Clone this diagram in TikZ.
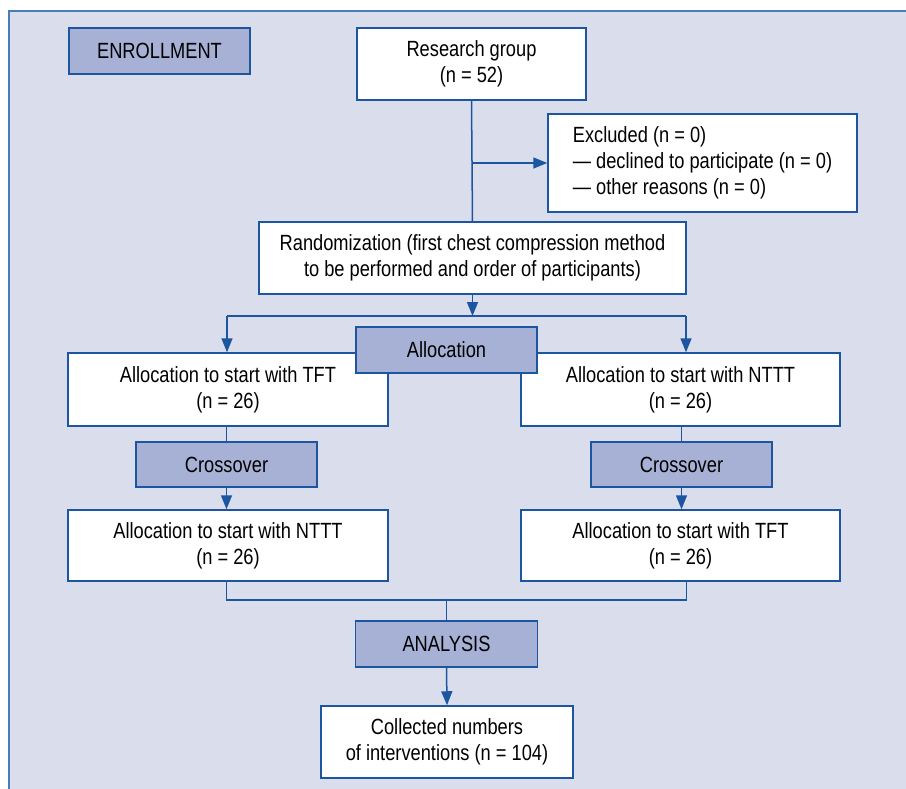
\documentclass[tikz,border=0pt]{standalone}
\usepackage{fontspec}
\setmainfont{Liberation Sans}[FakeStretch=0.83]
\usepackage{xcolor}
\definecolor{flowBack}{HTML}{D9DDEC}
\definecolor{flowHead}{HTML}{A6B1D5}
\definecolor{flowBorder}{HTML}{1C55A0}
\definecolor{flowFrame}{HTML}{4A7DB8}
\usepackage{tikz}
\usetikzlibrary{arrows.meta}
\usetikzlibrary{positioning}
\tikzstyle{stage} = [rectangle, draw=flowBorder, fill=white, line width=1.5pt,
        align=center, inner sep=0pt, font={\fontsize{22}{26}\selectfont}]
\tikzstyle{stagehead} = [stage, fill=flowHead]
\tikzstyle{link} = [draw=flowBorder, line width=1.5pt]
\tikzstyle{flow} = [link, -{Triangle[length=14pt,width=11pt]}]

\begin{document}
\begin{tikzpicture}[x=1pt, y=-1pt]
            \useasboundingbox (0,0) rectangle (906,789);
            \fill [flowBack] (9,11) rectangle (906,789);
            \draw [flowFrame, line width=2.5pt] (9,789) -- (9,11) -- (906,11);
            % enrollment
            \node [stagehead, minimum width=181pt, minimum height=46pt] (enroll) at (159.5,51) {ENROLLMENT};
            \node [stage, minimum width=229pt, minimum height=72pt] (research) at (471.5,64) {Research group\\(n = 52)};
            \node [stage, align=left, minimum width=309pt, minimum height=98pt] (excluded) at (702.5,163)
                {Excluded (n = 0)\\--- declined to participate (n = 0)\\--- other reasons (n = 0)};
            \node [stage, minimum width=427pt, minimum height=72pt] (random) at (472.5,258)
                {Randomization (first chest compression method\\to be performed and order of participants)};
            % allocation
            \node [stage, minimum width=320pt, minimum height=73pt] (allocTFT) at (228,389.5) {Allocation to start with TFT\\(n = 26)};
            \node [stage, minimum width=319pt, minimum height=73pt] (allocNTTT) at (680.5,389.5) {Allocation to start with NTTT\\(n = 26)};
            \node [stagehead, minimum width=181pt, minimum height=45pt] (crossL) at (226.5,464.5) {Crossover};
            \node [stagehead, minimum width=181pt, minimum height=45pt] (crossR) at (681.5,464.5) {Crossover};
            \node [stage, minimum width=320pt, minimum height=71pt] (nextNTTT) at (228,545.5) {Allocation to start with NTTT\\(n = 26)};
            \node [stage, minimum width=319pt, minimum height=71pt] (nextTFT) at (680.5,545.5) {Allocation to start with TFT\\(n = 26)};
            % analysis
            \node [stagehead, minimum width=182pt, minimum height=46pt] (analysis) at (446.5,644) {ANALYSIS};
            \node [stage, minimum width=252pt, minimum height=72pt] (collected) at (447,742) {Collected numbers\\of interventions (n = 104)};

            \coordinate (split) at (research.south |- excluded.west);
            \coordinate (forkL) at (227,316);
            \coordinate (forkR) at (686,316);
            \coordinate (mergeL) at (226.5,600);
            \coordinate (mergeR) at (686.5,600);

            \draw [link] (research.south) -- (random.north);
            \draw [flow] (split) -- (excluded.west);
            \draw [flow] (random.south) -- (random.south |- forkL);
            \draw [link] (forkL) -- (forkR);
            \draw [flow] (forkL) -- (forkL |- allocTFT.north);
            \draw [flow] (forkR) -- (forkR |- allocNTTT.north);
            \draw [link] (crossL.north |- allocTFT.south) -- (crossL.north);
            \draw [link] (crossR.north |- allocNTTT.south) -- (crossR.north);
            \draw [flow] (crossL.south) -- (crossL.south |- nextNTTT.north);
            \draw [flow] (crossR.south) -- (crossR.south |- nextTFT.north);
            \draw [link] (mergeL |- nextNTTT.south) -- (mergeL) -- (mergeR) -- (mergeR |- nextTFT.south);
            \draw [link] (analysis.north |- mergeL) -- (analysis.north);
            \draw [flow] (analysis.south) -- (collected.north);
            % allocation label sits over both boxes
            \node [stagehead, minimum width=181pt, minimum height=46pt] (allocation) at (446.5,350) {Allocation};
        \end{tikzpicture}
\end{document}
